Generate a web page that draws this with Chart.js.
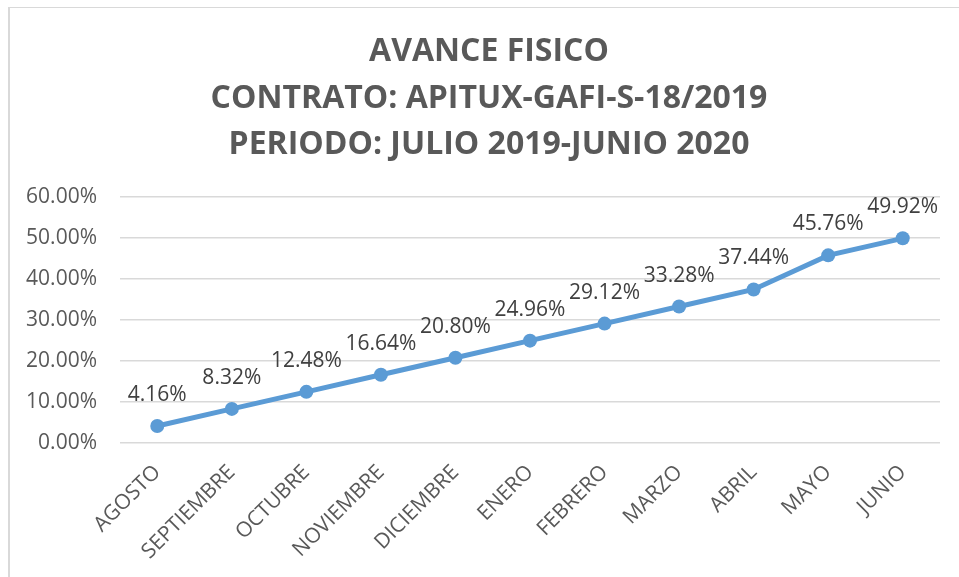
<!DOCTYPE html>
<html>
<head>
<meta charset="utf-8">
<script src="https://cdn.jsdelivr.net/npm/chart.js@4/dist/chart.umd.min.js"></script>
<style>
  html, body { margin: 0; padding: 0; background: #fff; overflow: hidden; width: 959px; height: 577px; }
  #frame { position: absolute; left: 8px; top: 7px; width: 1000px; height: 700px;
           border-left: 2px solid #d9d9d9; border-top: 1px solid #d9d9d9; }
  #wrap { position: absolute; left: 0; top: 0; width: 978px; height: 577px; }
</style>
</head>
<body>
<div id="frame"></div>
<div id="wrap"><canvas id="c" width="978" height="577"></canvas></div>
<script>
const categories = ["AGOSTO","SEPTIEMBRE","OCTUBRE","NOVIEMBRE","DICIEMBRE","ENERO","FEBRERO","MARZO","ABRIL","MAYO","JUNIO"];
const avanceValues = [4.16, 8.32, 12.48, 16.64, 20.80, 24.96, 29.12, 33.28, 37.44, 45.76, 49.92];
const titleLines = ["AVANCE FISICO", "CONTRATO: APITUX-GAFI-S-18/2019", "PERIODO: JULIO 2019-JUNIO 2020"];
const yMin = 0, yMax = 60, yStep = 10;

const FONT = "'Open Sans', sans-serif";

const dataLabels = {
  id: 'dataLabels',
  afterDatasetsDraw(chart) {
    const ctx = chart.ctx;
    const meta = chart.getDatasetMeta(0);
    ctx.save();
    ctx.font = "21px " + FONT;
    ctx.fillStyle = '#404040';
    ctx.textAlign = 'center';
    ctx.textBaseline = 'middle';
    meta.data.forEach((pt, i) => {
      ctx.fillText(avanceValues[i].toFixed(2) + '%', pt.x, pt.y - 31);
    });
    ctx.restore();
  }
};

new Chart(document.getElementById('c'), {
  type: 'line',
  data: {
    labels: categories,
    datasets: [{
      data: avanceValues,
      yAxisID: 'y',
      borderColor: '#5B9BD5',
      backgroundColor: '#5B9BD5',
      borderWidth: 5,
      pointRadius: 7,
      pointBorderWidth: 0,
      pointBackgroundColor: '#5B9BD5',
      tension: 0,
      clip: false
    }]
  },
  options: {
    responsive: false,
    animation: false,
    devicePixelRatio: 1,
    layout: { padding: { left: 0, right: 0, top: 0, bottom: 0 } },
    plugins: {
      legend: { display: false },
      tooltip: { enabled: false },
      title: {
        display: true,
        text: titleLines,
        color: '#595959',
        font: { family: FONT, size: 32, weight: 'bold', lineHeight: 1.453 },
        padding: { top: 29, bottom: 28.5 }
      }
    },
    scales: {
      x: {
        offset: true,
        grid: { display: false, drawTicks: false },
        border: { display: false },
        ticks: {
          color: '#595959',
          font: { family: FONT, size: 21 },
          minRotation: 45, maxRotation: 45,
          padding: 17,
          autoSkip: false
        },
        afterFit(scale) { scale.height = 134; }
      },
      y: {
        position: 'left',
        min: yMin, max: yMax,
        grid: { color: '#d9d9d9', lineWidth: 1.5, drawTicks: false },
        border: { display: false },
        ticks: {
          stepSize: yStep,
          color: '#595959',
          font: { family: FONT, size: 21 },
          padding: 23,
          callback: v => Number(v).toFixed(2) + '%'
        },
        afterFit(scale) { scale.width = 120; }
      },
      yRight: {
        type: 'linear',
        position: 'right',
        min: yMin, max: yMax,
        grid: { display: false, drawTicks: false },
        border: { display: false },
        ticks: { display: false },
        afterFit(scale) { scale.width = 38; }
      }
    }
  },
  plugins: [dataLabels]
});
</script>
</body>
</html>
